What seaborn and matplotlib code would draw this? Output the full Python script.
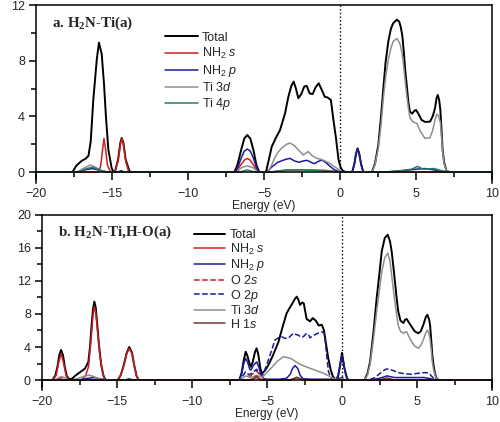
"""Two-panel PDOS figure (H2N-Ti adsorption), rebuilt with seaborn."""
import matplotlib

matplotlib.use("Agg")
import matplotlib.pyplot as plt
import seaborn as sns

sns.set_theme(style="ticks")
plt.rcParams["font.family"] = ["Liberation Sans", "DejaVu Sans"]
plt.rcParams["mathtext.fontset"] = "custom"
plt.rcParams["mathtext.rm"] = "Liberation Sans"
plt.rcParams["mathtext.it"] = "Liberation Sans:italic"
plt.rcParams["mathtext.bf"] = "Liberation Serif:bold"

COLORS = {"total": "#000000", "nh2s": "#cc2020", "nh2p": "#1c1c9a",
          "o2s": "#cc2020", "o2p": "#1c1c9a", "ti3d": "#8e8e8e",
          "ti4p": "#2a7d5f", "h1s": "#6e3b2f"}

# ---- panel a: H2N-Ti(a) ----
a_total_e = [-20, -17.6, -17.35, -17.0, -16.75, -16.55, -16.4, -16.23, -16.0, -15.86, -15.68,
             -15.53, -15.4, -15.24, -15.02, -14.9, -14.8, -14.6, -14.45, -14.36, -14.25, -14.1,
             -13.85, -13.7, -6.95, -6.75, -6.5, -6.3, -6.1, -5.9, -5.7, -5.5, -5.31, -4.87, -4.7,
             -4.49, -4.2, -3.95, -3.62, -3.4, -3.2, -3.05, -2.9, -2.74, -2.55, -2.35, -2.19, -2.0,
             -1.8, -1.6, -1.4, -1.2, -1.0, -0.84, -0.6, -0.44, -0.26, -0.1, 0.05, 0.2, 0.4, 0.8,
             0.95, 1.05, 1.16, 1.27, 1.38, 1.53, 2.1, 2.3, 2.52, 2.7, 2.85, 3.0, 3.18, 3.35, 3.5,
             3.75, 3.9, 4.0, 4.1, 4.2, 4.3, 4.39, 4.5, 4.6, 4.75, 4.9, 5.0, 5.15, 5.37, 5.6, 5.92,
             6.1, 6.25, 6.35, 6.43, 6.52, 6.6, 6.68, 6.75, 6.85, 7.0, 7.2, 10]
a_total = [0, 0, 0.45, 0.8, 0.95, 1.15, 2.2, 5.2, 8.1, 9.3, 8.5,
           6.4, 4.0, 1.6, 0.27, 0, 0.05, 0.9, 2.1, 2.45, 2.1, 0.9,
           0.05, 0, 0, 0.5, 1.6, 2.4, 2.66, 2.4, 1.6, 0.5, 0, 0, 0.8,
           1.82, 2.5, 3.0, 4.2, 5.4, 6.2, 6.5, 6.0, 5.3, 5.6, 6.15, 6.19, 5.65,
           5.6, 6.1, 6.38, 5.9, 5.4, 5.37, 5.18, 3.8, 2.4, 0.9, 0.3, 0.07, 0, 0,
           0.6, 1.3, 1.7, 1.3, 0.6, 0, 0, 0.6, 1.94, 4.0, 6.0, 7.9, 9.4, 10.3, 10.7,
           10.95, 10.8, 10.4, 9.8, 8.6, 7.2, 6.26, 5.0, 4.34, 4.2, 4.4, 4.46, 4.2, 3.74, 3.6, 3.62,
           4.0, 4.58, 5.3, 5.54, 5.2, 4.5, 3.0, 1.6, 0.7, 0.1, 0, 0]

a_nh2s_e = [-20, -15.9, -15.75, -15.62, -15.53, -15.43, -15.3, -15.1, -14.8, -14.6, -14.45,
            -14.36, -14.25, -14.1, -13.9, -6.9, -6.6, -6.3, -6.1, -5.9, -5.6, -5.35, -4.5, -3.8,
            -3.0, -2.0, -1.0, -0.5, 0, 10]
a_nh2s = [0, 0, 0.4, 1.6, 2.4, 1.7, 0.5, 0, 0, 0.8, 2.0,
          2.4, 2.0, 0.8, 0, 0, 0.4, 0.85, 0.98, 0.85, 0.35, 0, 0, 0.1,
          0.15, 0.15, 0.12, 0.05, 0, 0]

a_nh2p_e = [-20, -17.2, -16.8, -16.3, -15.9, -15.5, -15.2, -14.6, -14.4, -14.2, -6.9, -6.7,
            -6.5, -6.3, -6.1, -5.9, -5.7, -5.5, -5.33, -4.8, -4.5, -4.1, -3.6, -3.29, -3.0, -2.7,
            -2.4, -2.17, -1.9, -1.7, -1.45, -1.2, -0.95, -0.7, -0.4, -0.1, 0.8, 0.95, 1.05, 1.16,
            1.27, 1.38, 1.53, 3.0, 4.0, 5.0, 5.6, 6.2, 6.8, 7.2, 10]
a_nh2p = [0, 0, 0.15, 0.25, 0.15, 0.05, 0, 0, 0.1, 0, 0, 0.4,
          1.0, 1.5, 1.65, 1.5, 1.0, 0.35, 0, 0, 0.35, 0.7, 0.9, 0.98, 0.8, 0.7,
          0.8, 0.84, 0.7, 0.6, 0.75, 0.86, 0.7, 0.45, 0.18, 0.05, 0, 0.6, 1.3, 1.7,
          1.3, 0.6, 0, 0, 0.08, 0.2, 0.25, 0.15, 0.05, 0, 0]

a_ti3d_e = [-20, -17.3, -16.9, -16.45, -16.1, -15.7, -15.3, -6.8, -6.5, -6.1, -5.7, -5.4,
            -4.75, -4.5, -4.3, -4.06, -3.8, -3.5, -3.29, -3.0, -2.75, -2.41, -2.2, -2.09, -1.8,
            -1.53, -1.2, -0.9, -0.66, -0.4, -0.18, 0.05, 0.2, 2.1, 2.3, 2.52, 2.7, 2.85, 3.0,
            3.18, 3.35, 3.5, 3.75, 3.95, 4.07, 4.17, 4.28, 4.39, 4.5, 4.6, 4.8, 5.05, 5.3, 5.59,
            5.92, 6.1, 6.25, 6.36, 6.45, 6.6, 6.68, 6.75, 6.85, 7.0, 7.2, 10]
a_ti3d = [0, 0, 0.25, 0.5, 0.35, 0.1, 0, 0, 0.3, 0.45, 0.3, 0,
          0, 0.5, 1.0, 1.46, 1.75, 2.0, 2.08, 1.9, 1.6, 1.22, 1.4, 1.46, 1.15,
          0.98, 0.9, 0.75, 0.62, 0.4, 0.26, 0.05, 0, 0, 0.5, 1.7, 3.4, 5.3, 6.8,
          8.1, 8.9, 9.4, 9.6, 9.2, 8.6, 7.8, 6.6, 5.5, 4.6, 3.9, 3.6, 3.5, 2.9, 2.42,
          2.46, 3.0, 3.74, 4.15, 4.1, 3.6, 2.5, 1.5, 0.6, 0.1, 0, 0]

a_ti4p_e = [-20, -17.2, -16.8, -16.3, -15.9, -15.5, -6.6, -6.1, -5.6, -4.6, -3.5, -2.5, -1.5,
            -0.5, 0, 3.0, 4.0, 4.7, 5.1, 5.5, 6.2, 6.8, 7.2, 10]
a_ti4p = [0, 0, 0.2, 0.35, 0.2, 0, 0, 0.15, 0, 0, 0.15, 0.15, 0.1,
          0.05, 0, 0, 0.1, 0.2, 0.4, 0.2, 0.25, 0.05, 0, 0]

# ---- panel b: H2N-Ti,H-O(a) ----
b_total_e = [-20, -19.3, -19.1, -18.95, -18.85, -18.73, -18.6, -18.48, -18.35, -18.2, -18.0,
             -17.8, -17.58, -17.35, -17.13, -16.91, -16.8, -16.7, -16.6, -16.51, -16.42, -16.32,
             -16.2, -16.05, -15.9, -15.75, -14.95, -14.75, -14.55, -14.35, -14.18, -14.0, -13.85,
             -13.7, -13.55, -6.85, -6.7, -6.55, -6.42, -6.3, -6.15, -6.07, -5.95, -5.8, -5.69,
             -5.58, -5.45, -5.35, -5.15, -4.91, -4.6, -4.24, -3.95, -3.69, -3.47, -3.3, -3.15,
             -3.02, -2.9, -2.8, -2.65, -2.55, -2.45, -2.36, -2.13, -1.95, -1.75, -1.55, -1.35,
             -1.2, -1.05, -0.91, -0.75, -0.6, -0.4, -0.3, -0.15, 0.0, 0.15, 0.35, 0.5, 1.5, 1.7,
             1.87, 2.1, 2.31, 2.5, 2.65, 2.85, 3.05, 3.2, 3.31, 3.42, 3.53, 3.65, 3.75, 3.9, 4.09,
             4.2, 4.31, 4.45, 4.64, 4.85, 5.09, 5.25, 5.42, 5.58, 5.69, 5.8, 5.87, 5.95, 6.02,
             6.1, 6.2, 6.3, 6.45, 10]
b_total = [0, 0, 0.6, 1.8, 3.0, 3.64, 3.0, 1.6, 0.5, 0.1, 0.15,
           0.5, 0.8, 1.1, 1.4, 2.2, 4.0, 6.5, 8.6, 9.5, 8.8, 6.8,
           4.2, 1.8, 0.5, 0, 0, 0.6, 1.8, 3.3, 4.0, 3.3, 1.8,
           0.5, 0, 0, 0.8, 2.4, 3.43, 2.9, 1.9, 1.6, 2.2, 3.4, 3.84,
           3.1, 1.5, 0.8, 1.1, 1.8, 3.0, 4.6, 6.5, 8.1, 8.8, 9.3, 9.8,
           10.1, 9.7, 9.1, 9.4, 9.3, 8.3, 7.4, 7.1, 7.5, 7.2, 6.6, 6.7,
           6.0, 4.2, 2.6, 1.2, 0.4, 0.05, 0.1, 1.5, 3.3, 1.5, 0.1, 0, 0, 0.8,
           2.2, 5.8, 9.9, 13.0, 15.6, 17.2, 17.6, 16.8, 15.6, 13.8, 11.9, 9.8, 8.3, 7.2, 6.9,
           7.3, 7.4, 7.0, 6.46, 5.9, 5.66, 5.9, 6.67, 7.6, 7.9, 7.4, 6.67, 4.8, 3.0,
           1.8, 0.8, 0.2, 0, 0]

b_nh2s_e = [-20, -19.25, -19.05, -18.9, -18.73, -18.58, -18.4, -18.25, -17.4, -17.1, -16.9,
            -16.75, -16.6, -16.51, -16.42, -16.3, -16.15, -16.0, -15.85, -15.75, -14.95, -14.75,
            -14.55, -14.35, -14.18, -14.0, -13.85, -13.7, -13.55, -6.2, -5.7, -5.3, -3.5, -3.0,
            -2.5, 10]
b_nh2s = [0, 0, 0.6, 2.0, 3.2, 2.2, 0.6, 0, 0, 0.5, 1.6,
          4.5, 7.8, 8.9, 8.2, 6.0, 3.2, 1.2, 0.2, 0, 0, 0.6,
          1.7, 3.2, 3.8, 3.2, 1.7, 0.5, 0, 0, 0.3, 0, 0, 0.3,
          0, 0]

b_nh2p_e = [-20, -17.5, -17.0, -16.5, -16.0, -15.7, -14.5, -14.2, -13.9, -6.85, -6.7, -6.55,
            -6.42, -6.3, -6.15, -6.07, -5.9, -5.69, -5.55, -5.4, -5.25, -5.0, -4.2, -3.7, -3.45,
            -3.3, -3.13, -2.95, -2.8, -2.6, -2.0, -1.0, -0.4, -0.25, -0.12, 0.0, 0.12, 0.25, 0.4,
            1.8, 2.5, 3.0, 3.5, 4.5, 5.5, 6.2, 6.4, 10]
b_nh2p = [0, 0, 0.2, 0.3, 0.1, 0, 0, 0.15, 0, 0, 0.7, 2.0,
          2.6, 2.2, 1.3, 1.2, 1.8, 2.2, 1.6, 0.6, 0.2, 0.1, 0.1, 0.2, 0.7,
          1.4, 1.75, 1.4, 0.6, 0.15, 0.1, 0.1, 0.1, 0.6, 2.0, 3.0, 2.0, 0.6, 0,
          0, 0.2, 0.5, 0.3, 0.3, 0.3, 0.05, 0, 0]

b_o2s_e = [-20, -19.0, -18.7, -18.4, -6.3, -6.0, -5.7, -5.4, -5.1, -3.4, -3.0, -2.6, 10]
b_o2s = [0, 0, 0.3, 0, 0, 0.7, 1.1, 0.5, 0, 0, 0.35, 0, 0]

b_o2p_e = [-20, -6.8, -6.5, -6.42, -6.2, -5.9, -5.69, -5.5, -5.3, -5.02, -4.69, -4.47, -4.25,
           -4.02, -3.8, -3.58, -3.4, -3.24, -3.05, -2.91, -2.75, -2.58, -2.45, -2.36, -2.2,
           -2.13, -2.0, -1.8, -1.55, -1.35, -1.2, -1.1, -1.0, -0.9, -0.75, -0.55, -0.3, 0, 0.3,
           0.5, 1.8, 2.2, 2.6, 2.9, 3.1, 3.4, 3.75, 4.2, 4.64, 5.0, 5.53, 5.8, 6.0, 6.2, 6.4, 10]
b_o2p = [0, 0, 0.8, 1.0, 0.6, 1.0, 1.3, 0.8, 0.6, 1.8, 3.6, 4.85, 5.1,
         5.25, 5.05, 5.05, 5.4, 5.65, 5.5, 5.45, 5.2, 5.25, 5.5, 5.65, 5.4,
         5.1, 5.3, 5.5, 5.7, 5.85, 5.7, 4.5, 2.6, 1.0, 0.3, 0.05, 0.1, 0.3, 0.05,
         0, 0, 0.3, 0.9, 1.3, 1.35, 1.15, 0.9, 0.75, 0.7, 0.8, 0.9, 0.85, 0.4, 0.1, 0, 0]

b_ti3d_e = [-20, -19.1, -18.9, -18.7, -18.5, -18.3, -18.0, -17.6, -17.2, -16.9, -16.6, -16.2,
            -15.9, -6.8, -6.42, -6.1, -5.69, -5.3, -4.8, -4.3, -3.9, -3.4, -2.9, -2.4, -1.8,
            -1.2, -0.7, -0.3, 0, 0.3, 1.5, 1.7, 1.87, 2.1, 2.31, 2.5, 2.65, 2.85, 3.05, 3.2,
            3.31, 3.42, 3.53, 3.65, 3.75, 3.9, 4.09, 4.2, 4.31, 4.45, 4.64, 4.85, 5.09, 5.25,
            5.42, 5.58, 5.69, 5.8, 5.87, 5.95, 6.02, 6.1, 6.2, 6.3, 6.45, 10]
b_ti3d = [0, 0, 0.3, 0.4, 0.3, 0.05, 0, 0.2, 0.45, 0.6, 0.45, 0.15,
          0, 0, 0.5, 0.3, 0.55, 0.35, 1.3, 2.3, 2.83, 2.6, 2.0, 1.6, 1.2,
          0.8, 0.3, 0.05, 0.1, 0, 0, 0.6, 1.9, 5.0, 8.3, 11.0, 13.1, 14.8, 15.36, 14.4,
          12.7, 11.0, 9.4, 7.8, 6.6, 5.9, 5.66, 5.8, 5.86, 5.3, 4.65, 4.1, 3.84, 4.2,
          4.85, 5.7, 6.06, 5.6, 5.0, 3.6, 2.2, 1.3, 0.6, 0.15, 0, 0]

b_h1s_e = [-20, -6.0, -5.7, -5.4, -3.4, -3.0, -2.6, 2.5, 3.0, 3.5, 10]
b_h1s = [0, 0, 0.5, 0, 0, 0.3, 0, 0, 0.25, 0, 0]

LABELS = {"total": "Total", "nh2s": r"NH$_2$ $s$", "nh2p": r"NH$_2$ $p$",
          "o2s": r"O 2$s$", "o2p": r"O 2$p$", "ti3d": r"Ti 3$d$",
          "ti4p": r"Ti 4$p$", "h1s": r"H 1$s$"}


def draw_curves(ax, curves):
    for key, e, dos, ls in curves:
        lw = 1.4 if key == "total" else 1.1
        sns.lineplot(x=e, y=dos, ax=ax, color=COLORS[key], lw=lw, ls=ls,
                     label=LABELS[key], estimator=None, sort=False)


def style_axes(ax, ylim, ymajor, title, legend_xy, handlelen, spacing):
    ax.set_xlim(-20, 10)
    ax.set_ylim(*ylim)
    ax.spines["bottom"].set_position(("data", 0))
    ax.set_xticks(range(-20, 11, 5))
    ax.set_xticks([x + 2.5 for x in range(-20, 10, 5)], minor=True)
    ax.set_yticks(range(0, int(ylim[1]) + 1, ymajor))
    ax.set_yticks(range(ymajor // 2, int(ylim[1]), ymajor), minor=True)
    ax.tick_params(axis="x", which="major", direction="out", length=6, width=1.1,
                   labelsize=9, pad=5.5, color="black")
    ax.tick_params(axis="y", which="major", direction="out", length=5, width=1.1,
                   labelsize=9, pad=3, color="black")
    ax.tick_params(which="minor", direction="out", length=3.5, width=1.1, color="black")
    for sp in ax.spines.values():
        sp.set_linewidth(1.1)
        sp.set_color("black")
    lo, hi = ylim
    ax.axvline(0, ymin=(0 - lo) / (hi - lo), ymax=1, color="black", ls=":", lw=1)
    ax.set_xlabel("Energy (eV)", fontsize=8.6, labelpad=0)
    ax.set_ylabel("")
    ax.text(0.035, 0.9, title, transform=ax.transAxes, fontsize=10.8, fontweight="bold",
            family="Liberation Serif", va="center", ha="left")
    ax.legend(loc="upper left", bbox_to_anchor=legend_xy, frameon=False, fontsize=9,
              borderpad=0, borderaxespad=0, labelspacing=spacing, handlelength=handlelen,
              handletextpad=0.35)


fig = plt.figure(figsize=(5.0, 4.22), dpi=100)
ax_a = fig.add_axes([0.072, 0.566, 0.912, 0.422])
ax_b = fig.add_axes([0.084, 0.076, 0.9, 0.4147])

draw_curves(ax_a, [("total", a_total_e, a_total, "-"),
                   ("nh2s", a_nh2s_e, a_nh2s, "-"),
                   ("nh2p", a_nh2p_e, a_nh2p, "-"),
                   ("ti3d", a_ti3d_e, a_ti3d, "-"),
                   ("ti4p", a_ti4p_e, a_ti4p, "-")])
style_axes(ax_a, (-0.8, 12), 4, r"a. H$_\mathbf{2}$N-Ti(a)", (0.283, 0.85), 2.6, 0.17)

draw_curves(ax_b, [("total", b_total_e, b_total, "-"),
                   ("nh2s", b_nh2s_e, b_nh2s, "-"),
                   ("nh2p", b_nh2p_e, b_nh2p, "-"),
                   ("o2s", b_o2s_e, b_o2s, "--"),
                   ("o2p", b_o2p_e, b_o2p, "--"),
                   ("ti3d", b_ti3d_e, b_ti3d, "-"),
                   ("h1s", b_h1s_e, b_h1s, "-")])
style_axes(ax_b, (-1.2, 20), 4, r"b. H$_\mathbf{2}$N-Ti,H-O(a)", (0.338, 0.92), 2.5, 0.05)

fig.savefig("out.png", dpi=100, facecolor="white")
